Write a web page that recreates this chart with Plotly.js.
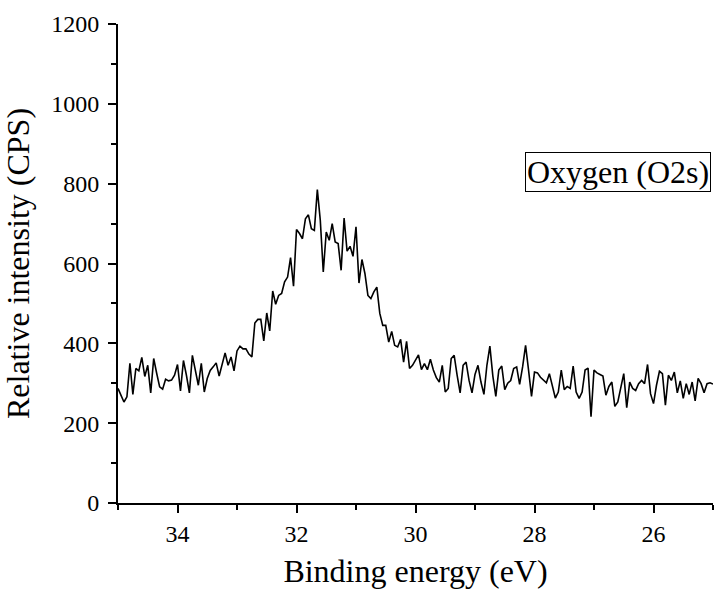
<!DOCTYPE html>
<html>
<head>
<meta charset="utf-8">
<script src="https://cdn.plot.ly/plotly-3.0.1.min.js"></script>
<style>html,body{margin:0;padding:0;background:#fff;}#chart{width:714px;height:593px;}</style>
</head>
<body>
<div id="chart"></div>
<script>
const bindingEnergy = [
35.00,34.95,34.90,34.85,34.80,34.75,34.70,34.65,34.60,34.55,
34.50,34.45,34.40,34.35,34.30,34.25,34.20,34.15,34.10,34.05,
34.00,33.95,33.90,33.85,33.80,33.75,33.70,33.65,33.60,33.55,
33.50,33.45,33.40,33.35,33.30,33.25,33.20,33.15,33.10,33.05,
33.00,32.95,32.90,32.85,32.80,32.75,32.70,32.65,32.60,32.55,
32.50,32.45,32.40,32.35,32.30,32.25,32.20,32.15,32.10,32.05,
32.00,31.95,31.90,31.85,31.80,31.75,31.70,31.65,31.60,31.55,
31.50,31.45,31.40,31.35,31.30,31.25,31.20,31.15,31.10,31.05,
31.00,30.95,30.90,30.85,30.80,30.75,30.70,30.65,30.60,30.55,
30.50,30.45,30.40,30.35,30.30,30.25,30.20,30.15,30.10,30.05,
30.00,29.95,29.90,29.85,29.80,29.75,29.70,29.65,29.60,29.55,
29.50,29.45,29.40,29.35,29.30,29.25,29.20,29.15,29.10,29.05,
29.00,28.95,28.90,28.85,28.80,28.75,28.70,28.65,28.60,28.55,
28.50,28.45,28.40,28.35,28.30,28.25,28.20,28.15,28.10,28.05,
28.00,27.95,27.90,27.85,27.80,27.75,27.70,27.65,27.60,27.55,
27.50,27.45,27.40,27.35,27.30,27.25,27.20,27.15,27.10,27.05,
27.00,26.95,26.90,26.85,26.80,26.75,26.70,26.65,26.60,26.55,
26.50,26.45,26.40,26.35,26.30,26.25,26.20,26.15,26.10,26.05,
26.00,25.95,25.90,25.85,25.80,25.75,25.70,25.65,25.60,25.55,
25.50,25.45,25.40,25.35,25.30,25.25,25.20,25.15,25.10,25.05,
25.00
];
const intensityCPS = [
287,270,253,266,350,272,337,331,365,317,
345,276,362,325,291,285,310,306,308,320,
347,281,357,320,276,370,332,295,350,278,
312,332,341,351,318,350,
376,345,366,331,381,393,386,386,373,366,
451,460,460,406,476,431,531,498,520,525,
554,566,615,543,685,675,662,712,722,687,
683,
785,708,579,679,658,700,654,650,583,714,
631,643,618,692,551,610,575,520,512,529,
541,475,445,445,403,430,395,
391,410,353,405,337,345,360,371,334,349,
334,360,333,314,303,345,278,287,362,370,
320,276,345,353,307,276,322,345,303,272,
345,393,318,267,333,343,
284,300,307,337,341,297,341,395,333,267,
328,326,315,307,301,324,297,263,278,333,
284,292,287,343,278,262,278,333,338,216,
333,326,322,318,270,292,
303,242,253,287,324,239,303,287,282,299,
307,299,347,274,249,295,330,324,245,320,
307,328,276,306,262,299,272,303,256,312,
299,276,299,301,298
];
const seriesName = "Oxygen (O2s)";
const xTitle = "Binding energy (eV)";
const yTitle = "Relative intensity (CPS)";

const font = "Liberation Serif, Times New Roman, serif";
const axisCommon = {
  showline: true, linecolor: '#000', linewidth: 2,
  ticks: 'outside', ticklen: 8, tickwidth: 2, tickcolor: '#000',
  showgrid: false, zeroline: false, mirror: false,
  tickfont: {family: font, size: 24, color: '#000'},
  automargin: false
};
const layout = {
  width: 714, height: 593,
  margin: {l: 118, r: 1, t: 24, b: 90},
  paper_bgcolor: '#fff', plot_bgcolor: '#fff',
  showlegend: false,
  xaxis: Object.assign({}, axisCommon, {
    range: [35, 25], dtick: 2, tick0: 0,
    minor: {dtick: 1, tick0: 0, ticks: 'outside', ticklen: 5, tickwidth: 2, tickcolor: '#000'},
    title: {text: xTitle, font: {family: font, size: 32, color: '#000'}, standoff: 14}
  }),
  yaxis: Object.assign({}, axisCommon, {
    range: [0, 1200], dtick: 200, tick0: 0,
    minor: {dtick: 100, tick0: 0, ticks: 'outside', ticklen: 5, tickwidth: 2, tickcolor: '#000'},
    ticklabelstandoff: 4,
    title: {text: yTitle, font: {family: font, size: 32, color: '#000'}, standoff: 14}
  }),
  annotations: [{
    xref: 'paper', yref: 'paper', x: 0.997, y: 0.733,
    xanchor: 'right', yanchor: 'top', showarrow: false,
    text: seriesName,
    font: {family: font, size: 32, color: '#000'},
    bordercolor: '#000', borderwidth: 1, borderpad: 1, bgcolor: '#fff'
  }]
};
const data = [{
  type: 'scatter', mode: 'lines', name: seriesName,
  x: bindingEnergy, y: intensityCPS,
  line: {color: '#000', width: 1.6}
}];
Plotly.newPlot('chart', data, layout, {staticPlot: true, displayModeBar: false});
</script>
</body>
</html>
